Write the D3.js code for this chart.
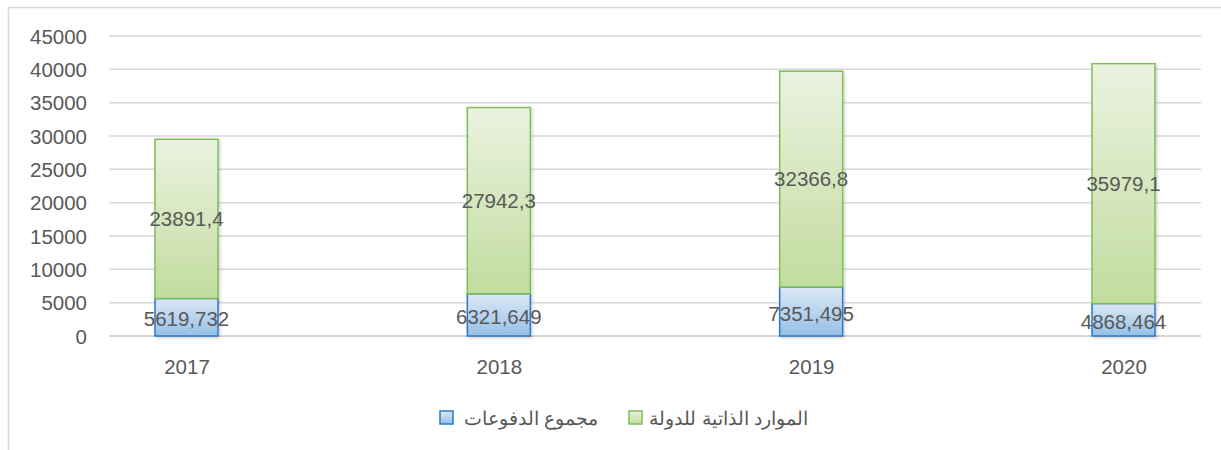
<!DOCTYPE html>
<html><head><meta charset="utf-8">
<script src="https://cdn.jsdelivr.net/npm/d3@7"></script>
<style>body{margin:0;background:#fff;} svg{display:block;font-family:"Liberation Sans",Arial,sans-serif;}</style>
</head><body><svg id="c" width="1221" height="450"></svg>
<script>
const years = ["2017","2018","2019","2020"];
const payments = [5619.732, 6321.649, 7351.495, 4868.464];
const resources = [23891.4, 27942.3, 32366.8, 35979.1];
const paymentLabels = ["5619,732","6321,649","7351,495","4868,464"];
const resourceLabels = ["23891,4","27942,3","32366,8","35979,1"];
const yTicks = [0,5000,10000,15000,20000,25000,30000,35000,40000,45000];
const seriesNames = ["مجموع الدفوعات","الموارد الذاتية للدولة"];

const svg = d3.select("#c");
const defs = svg.append("defs");
function grad(id, c1, c2){
  const g = defs.append("linearGradient").attr("id",id).attr("x1",0).attr("y1",0).attr("x2",0).attr("y2",1);
  g.append("stop").attr("offset","0%").attr("stop-color",c1);
  g.append("stop").attr("offset","100%").attr("stop-color",c2);
}
grad("gG","#ebf2e0","#c2dc9f");
grad("gB","#dce9f7","#96bfe6");
const f = defs.append("filter").attr("id","sh").attr("x","-20%").attr("y","-20%").attr("width","140%").attr("height","140%");
f.append("feDropShadow").attr("dx",1.5).attr("dy",1.5).attr("stdDeviation",1.5).attr("flood-color","#000").attr("flood-opacity",0.18);

// outer border (left & top visible)
svg.append("rect").attr("x",8.5).attr("y",7.5).attr("width",1300).attr("height",500)
  .attr("fill","none").attr("stroke","#d9d9d9").attr("stroke-width",1.5);

const y = d3.scaleLinear().domain([0,45000]).range([336,36]);
const x = d3.scalePoint().domain(years).range([186.5,1123.5]);
const bw = 63;
const gridX0 = 109, gridX1 = 1201;

const gy = svg.append("g");
gy.selectAll("line").data(yTicks).join("line")
  .attr("x1",gridX0).attr("x2",gridX1)
  .attr("y1",d=>y(d)).attr("y2",d=>y(d))
  .attr("stroke",d=>d===0?"#c8c8c8":"#d9d9d9").attr("stroke-width",1.5);

const yAxis = d3.axisLeft(y).tickValues(yTicks).tickFormat(d3.format("d")).tickSize(0).tickPadding(0);
const ya = svg.append("g").attr("transform","translate(87,0)").call(yAxis);
ya.select(".domain").remove();
ya.selectAll("text").attr("fill","#595959").style("font-size","20.5px").attr("dy","0.35em");

const xAxis = d3.axisBottom(x).tickSize(0).tickPadding(0);
const xa = svg.append("g").attr("transform","translate(0,367)").call(xAxis);
xa.select(".domain").remove();
xa.selectAll("text").attr("fill","#595959").style("font-size","20.5px").attr("dy","0.35em");

const data = years.map((yr,i)=>({yr, p:payments[i], r:resources[i], pl:paymentLabels[i], rl:resourceLabels[i]}));

const bars = svg.append("g").attr("filter","url(#sh)");
bars.selectAll("rect.b").data(data).join("rect").attr("class","b")
  .attr("x",d=>x(d.yr)-bw/2).attr("width",bw)
  .attr("y",d=>y(d.p)).attr("height",d=>y(0)-y(d.p))
  .attr("fill","url(#gB)").attr("stroke","#2e78c2").attr("stroke-width",1.5);
bars.selectAll("rect.g").data(data).join("rect").attr("class","g")
  .attr("x",d=>x(d.yr)-bw/2).attr("width",bw)
  .attr("y",d=>y(d.p+d.r)).attr("height",d=>y(d.p)-y(d.p+d.r))
  .attr("fill","url(#gG)").attr("stroke","#7cbf57").attr("stroke-width",1.5);

const lab = svg.append("g").style("font-size","20.5px").attr("fill","#595959").attr("text-anchor","middle");
lab.selectAll("text.p").data(data).join("text").attr("class","p")
  .attr("x",d=>x(d.yr)).attr("y",d=>(y(0)+y(d.p))/2+2).attr("dy","0.35em").text(d=>d.pl);
lab.selectAll("text.r").data(data).join("text").attr("class","r")
  .attr("x",d=>x(d.yr)).attr("y",d=>(y(d.p)+y(d.p+d.r))/2).attr("dy","0.35em").text(d=>d.rl);

// legend
const leg = svg.append("g").style("font-size","19px").attr("fill","#595959");
const legItems = [
  {sx:440, tx:598, fill:"url(#gB)", stroke:"#2e78c2", name:seriesNames[0]},
  {sx:629, tx:808, fill:"url(#gG)", stroke:"#7cbf57", name:seriesNames[1]}
];
legItems.forEach(it=>{
  leg.append("rect").attr("x",it.sx).attr("y",411).attr("width",13).attr("height",13)
    .attr("fill",it.fill).attr("stroke",it.stroke).attr("stroke-width",1.5);
  leg.append("text").attr("x",it.tx).attr("y",418).attr("dy","0.35em")
    .attr("text-anchor","end").text(it.name);
});
</script></body></html>
